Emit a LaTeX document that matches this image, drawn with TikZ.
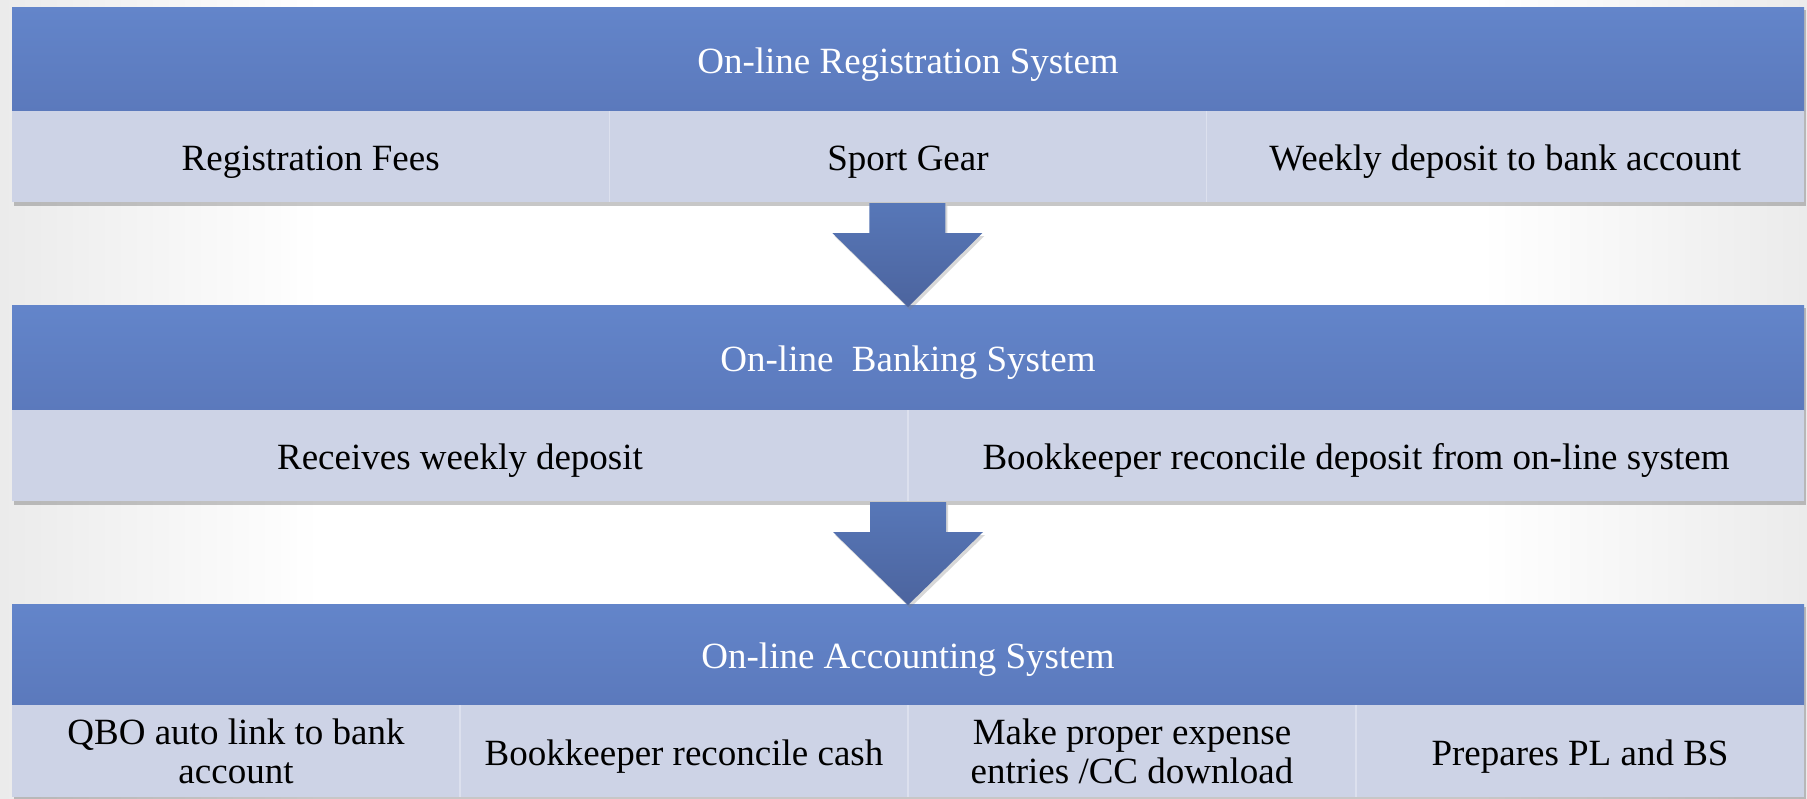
\documentclass[tikz,border=0pt]{standalone}
\usepackage{fontspec}
\setmainfont{Liberation Serif}
\usetikzlibrary{shadows,calc}
\definecolor{hdrtop}{HTML}{6385CA}
\definecolor{hdrbot}{HTML}{5B79BC}
\definecolor{cellc}{HTML}{CDD3E6}
\definecolor{divc}{HTML}{DCE0EE}
\definecolor{arrtop}{HTML}{5777B8}
\definecolor{arrbot}{HTML}{4C649E}
\definecolor{bgedge}{HTML}{EBEBEB}
\begin{document}
\begin{tikzpicture}[x=1pt,y=-1pt,
  every node/.style={inner sep=0pt, outer sep=0pt},
  txt/.style={font=\fontsize{37}{39}\selectfont, align=center},
  oneline/.style={text height=28pt, text depth=0pt},
  hdr/.style={txt, oneline, text=white, top color=hdrtop, bottom color=hdrbot,
    minimum width=1792pt, anchor=north west},
  cell/.style={txt, text=black, fill=cellc, anchor=north west},
  boxshadow/.style={fill=black, opacity=0.22},
  divider/.style={draw=divc, line width=1.5pt},
  blockarrow/.style={top color=arrtop, bottom color=arrbot,
    drop shadow={shadow xshift=2pt, shadow yshift=-3pt, opacity=0.3}}
]
\useasboundingbox (0,0) rectangle (1807,798);
% background
\fill[white] (0,0) rectangle (1807,798);
\shade[left color=bgedge, right color=white] (0,0) rectangle (320,798);
\shade[left color=white, right color=bgedge] (1480,0) rectangle (1807,798);

% ---------- box 1 ----------
\fill[boxshadow] (13.5,10) rectangle (1806,206);
\node[hdr, minimum height=104pt] (h1) at (12,7) {On-line Registration System};
\node[cell, oneline, minimum width=597.33pt, minimum height=91pt] (c11) at (12,111) {Registration Fees};
\node[cell, oneline, minimum width=597.33pt, minimum height=91pt] (c12) at (609.33,111) {Sport Gear};
\node[cell, oneline, minimum width=597.34pt, minimum height=91pt] (c13) at (1206.67,111) {Weekly deposit to bank account};
\draw[divider] (c11.north east) -- (c11.south east);
\draw[divider] (c12.north east) -- (c12.south east);

% ---------- box 2 ----------
\fill[boxshadow] (13.5,308) rectangle (1806,505);
\node[hdr, minimum height=105pt] (h2) at (12,305) {On-line\ \ Banking System};
\node[cell, oneline, minimum width=896pt, minimum height=91pt] (c21) at (12,410) {Receives weekly deposit};
\node[cell, oneline, minimum width=896pt, minimum height=91pt] (c22) at (908,410) {Bookkeeper reconcile deposit from on-line system};
\draw[divider] (c21.north east) -- (c21.south east);

% ---------- box 3 ----------
\fill[boxshadow] (13.5,607) rectangle (1806,801);
\node[hdr, minimum height=101pt] (h3) at (12,604) {On-line Accounting System};
\node[cell, minimum width=448pt, minimum height=92pt] (c31) at (12,705) {QBO auto link to bank\\account};
\node[cell, oneline, minimum width=448pt, minimum height=92pt] (c32) at (460,705) {Bookkeeper reconcile cash};
\node[cell, minimum width=448pt, minimum height=92pt] (c33) at (908,705) {Make proper expense\\entries /CC download};
\node[cell, oneline, minimum width=448pt, minimum height=92pt] (c34) at (1356,705) {Prepares PL and BS};
\draw[divider] (c31.north east) -- (c31.south east);
\draw[divider] (c32.north east) -- (c32.south east);
\draw[divider] (c33.north east) -- (c33.south east);

% ---------- arrows ----------
\coordinate (a1) at ($(c12.south)+(-0.67,1)$);
\coordinate (a2) at ($(c21.south east)+(0,1)$);
\path[blockarrow] ($(a1)+(-38,0)$) -- ($(a1)+(38,0)$) -- ($(a1)+(38,30)$) -- ($(a1)+(75,30)$)
   -- ($(h2.north)+(0,2)$) -- ($(a1)+(-75,30)$) -- ($(a1)+(-38,30)$) -- cycle;
\path[blockarrow] ($(a2)+(-38,0)$) -- ($(a2)+(38,0)$) -- ($(a2)+(38,30)$) -- ($(a2)+(75,30)$)
   -- ($(h3.north)+(0,1)$) -- ($(a2)+(-75,30)$) -- ($(a2)+(-38,30)$) -- cycle;
\end{tikzpicture}
\end{document}
